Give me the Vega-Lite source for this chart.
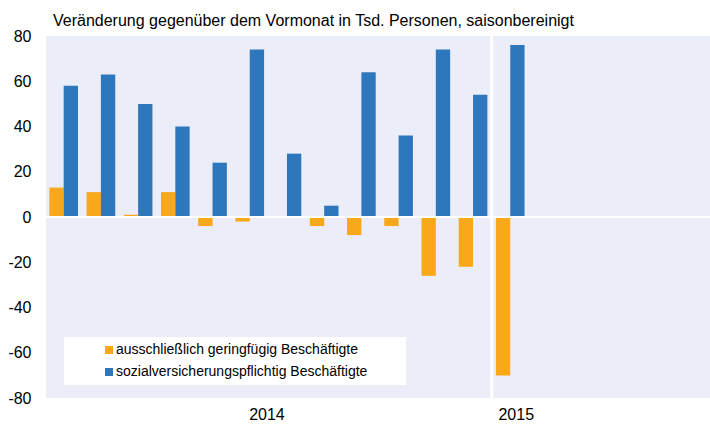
{
  "$schema": "https://vega.github.io/schema/vega-lite/v6.json",
  "width": 668,
  "height": 362,
  "autosize": {"type": "none"},
  "padding": {"left": 46, "top": 36, "right": 0, "bottom": 28},
  "background": "white",
  "config": {
    "font": "Liberation Sans",
    "view": {"fill": "#EBEEF9", "stroke": null}
  },
  "title": {
    "text": "Veränderung gegenüber dem Vormonat in Tsd. Personen, saisonbereinigt",
    "anchor": "start",
    "frame": "group",
    "dx": 7,
    "offset": -14,
    "baseline": "alphabetic",
    "font": "Liberation Sans",
    "fontSize": 16,
    "fontWeight": "normal",
    "color": "#000000"
  },
  "data": {
    "values": [
      {"monat": "2014-01", "reihe": "ausschließlich geringfügig Beschäftigte", "wert": 13},
      {"monat": "2014-01", "reihe": "sozialversicherungspflichtig Beschäftigte", "wert": 58},
      {"monat": "2014-02", "reihe": "ausschließlich geringfügig Beschäftigte", "wert": 11},
      {"monat": "2014-02", "reihe": "sozialversicherungspflichtig Beschäftigte", "wert": 63},
      {"monat": "2014-03", "reihe": "ausschließlich geringfügig Beschäftigte", "wert": 1},
      {"monat": "2014-03", "reihe": "sozialversicherungspflichtig Beschäftigte", "wert": 50},
      {"monat": "2014-04", "reihe": "ausschließlich geringfügig Beschäftigte", "wert": 11},
      {"monat": "2014-04", "reihe": "sozialversicherungspflichtig Beschäftigte", "wert": 40},
      {"monat": "2014-05", "reihe": "ausschließlich geringfügig Beschäftigte", "wert": -4},
      {"monat": "2014-05", "reihe": "sozialversicherungspflichtig Beschäftigte", "wert": 24},
      {"monat": "2014-06", "reihe": "ausschließlich geringfügig Beschäftigte", "wert": -2},
      {"monat": "2014-06", "reihe": "sozialversicherungspflichtig Beschäftigte", "wert": 74},
      {"monat": "2014-07", "reihe": "ausschließlich geringfügig Beschäftigte", "wert": 0},
      {"monat": "2014-07", "reihe": "sozialversicherungspflichtig Beschäftigte", "wert": 28},
      {"monat": "2014-08", "reihe": "ausschließlich geringfügig Beschäftigte", "wert": -4},
      {"monat": "2014-08", "reihe": "sozialversicherungspflichtig Beschäftigte", "wert": 5},
      {"monat": "2014-09", "reihe": "ausschließlich geringfügig Beschäftigte", "wert": -8},
      {"monat": "2014-09", "reihe": "sozialversicherungspflichtig Beschäftigte", "wert": 64},
      {"monat": "2014-10", "reihe": "ausschließlich geringfügig Beschäftigte", "wert": -4},
      {"monat": "2014-10", "reihe": "sozialversicherungspflichtig Beschäftigte", "wert": 36},
      {"monat": "2014-11", "reihe": "ausschließlich geringfügig Beschäftigte", "wert": -26},
      {"monat": "2014-11", "reihe": "sozialversicherungspflichtig Beschäftigte", "wert": 74},
      {"monat": "2014-12", "reihe": "ausschließlich geringfügig Beschäftigte", "wert": -22},
      {"monat": "2014-12", "reihe": "sozialversicherungspflichtig Beschäftigte", "wert": 54},
      {"monat": "2015-01", "reihe": "ausschließlich geringfügig Beschäftigte", "wert": -70},
      {"monat": "2015-01", "reihe": "sozialversicherungspflichtig Beschäftigte", "wert": 76}
    ]
  },
  "layer": [
    {
      "mark": {"type": "bar"},
      "encoding": {
        "x": {
          "field": "monat",
          "type": "nominal",
          "sort": null,
          "scale": {
            "domain": ["2014-01","2014-02","2014-03","2014-04","2014-05","2014-06","2014-07","2014-08","2014-09","2014-10","2014-11","2014-12","2015-01","2015-02","2015-03","2015-04","2015-05","2015-06"],
            "paddingInner": 0.23,
            "paddingOuter": 0.09
          },
          "axis": {
            "title": null,
            "ticks": false,
            "domain": false,
            "grid": false,
            "labelAngle": 0,
            "labelBaseline": "top",
            "labelPadding": 8,
            "labelFontSize": 16,
            "labelColor": "#000000",
            "labelOverlap": false,
            "labelExpr": "datum.value == '2014-07' ? '2014' : (datum.value == '2015-01' ? '2015' : '')",
            "labelOffset": {"condition": {"test": "datum.value == '2014-07'", "value": -20}, "value": 6}
          }
        },
        "xOffset": {
          "field": "reihe",
          "type": "nominal",
          "scale": {"domain": ["ausschließlich geringfügig Beschäftigte", "sozialversicherungspflichtig Beschäftigte"], "paddingInner": 0, "paddingOuter": 0}
        },
        "y": {
          "field": "wert",
          "type": "quantitative",
          "scale": {"domain": [-80, 80], "nice": false, "zero": true},
          "axis": {
            "title": null,
            "values": [-80, -60, -40, -20, 0, 20, 40, 60, 80],
            "grid": false,
            "ticks": false,
            "domain": false,
            "labelPadding": 15,
            "labelFontSize": 16,
            "labelColor": "#000000",
            "labelExpr": "replace(datum.label, '\u2212', '-')"
          }
        },
        "color": {
          "field": "reihe",
          "type": "nominal",
          "scale": {
            "domain": ["ausschließlich geringfügig Beschäftigte", "sozialversicherungspflichtig Beschäftigte"],
            "range": ["#F9A81C", "#2E77BC"]
          },
          "legend": {
            "title": "\u00a0",
            "titleOrient": "right",
            "titlePadding": 33,
            "titleFontSize": 14,
            "orient": "none",
            "legendX": 18,
            "legendY": 301,
            "fillColor": "white",
            "padding": 6,
            "symbolType": "square",
            "symbolSize": 64,
            "symbolStrokeWidth": 0,
            "symbolOffset": 32,
            "labelFontSize": 14,
            "labelColor": "#000000",
            "labelOffset": 0,
            "labelLimit": 600,
            "rowPadding": 8
          }
        }
      }
    },
    {
      "data": {"values": [{}]},
      "mark": {"type": "rule", "color": "white", "strokeWidth": 2},
      "encoding": {"y": {"datum": 0, "type": "quantitative"}}
    },
    {
      "data": {"values": [{}]},
      "mark": {"type": "rule", "color": "white", "strokeWidth": 3},
      "encoding": {"x": {"datum": "2015-01", "type": "nominal", "bandPosition": -0.15}}
    }
  ]
}
